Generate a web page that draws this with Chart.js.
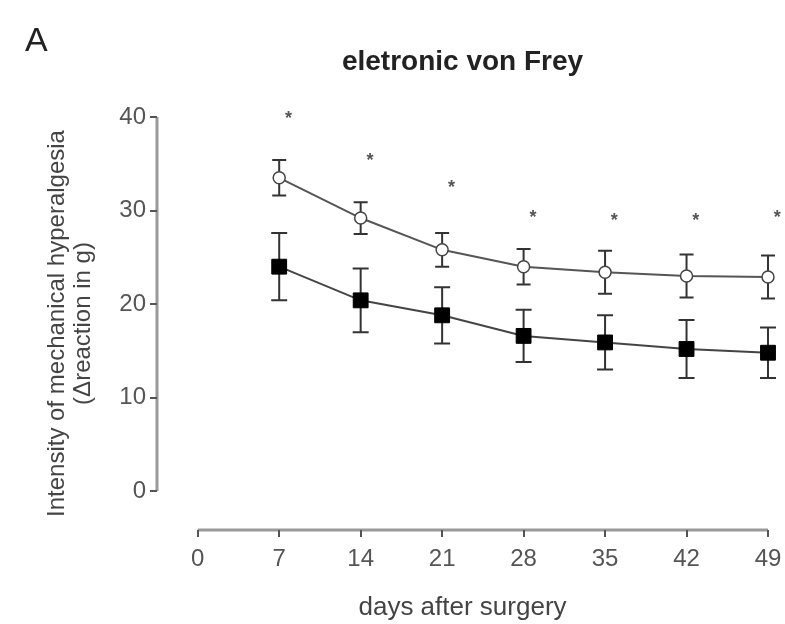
<!DOCTYPE html>
<html>
<head>
<meta charset="utf-8">
<script src="https://cdn.jsdelivr.net/npm/chart.js@4.4.1/dist/chart.umd.min.js"></script>
<style>
  html, body { margin: 0; padding: 0; background: #fff; }
  #wrap { width: 785px; height: 624px; }
</style>
</head>
<body>
<div id="wrap"><canvas id="Chart"></canvas></div>
<script>
const days = [7, 14, 21, 28, 35, 42, 49];
const openMean = [33.5, 29.2, 25.8, 24.0, 23.4, 23.0, 22.9];
const openErr = [1.9, 1.7, 1.8, 1.9, 2.3, 2.3, 2.3];
const filledMean = [24.0, 20.4, 18.8, 16.6, 15.9, 15.2, 14.8];
const filledErr = [3.6, 3.4, 3.0, 2.8, 2.9, 3.1, 2.7];
const starY = [40.3, 35.8, 32.9, 29.7, 29.4, 29.4, 29.7];
const xTicks = [0, 7, 14, 21, 28, 35, 42, 49];
const yTicks = [0, 10, 20, 30, 40];

const FONT = '"Liberation Sans", Arial, sans-serif';

// error bars under the markers
const errorBars = {
    id: 'errorBars',
    beforeDatasetsDraw(chart) {
        const ctx = chart.ctx;
        const xs = chart.scales.x, ys = chart.scales.y;
        const errs = [openErr, filledErr];
        const means = [openMean, filledMean];
        ctx.save();
        ctx.strokeStyle = '#333';
        ctx.lineWidth = 2;
        for (let d = 0; d < 2; d++) {
            const cap = d === 0 ? 7 : 8;
            days.forEach((day, i) => {
                const x = xs.getPixelForValue(day);
                const t = ys.getPixelForValue(means[d][i] + errs[d][i]);
                const b = ys.getPixelForValue(means[d][i] - errs[d][i]);
                ctx.beginPath();
                ctx.moveTo(x, t); ctx.lineTo(x, b);
                ctx.moveTo(x - cap, t); ctx.lineTo(x + cap, t);
                ctx.moveTo(x - cap, b); ctx.lineTo(x + cap, b);
                ctx.stroke();
            });
        }
        ctx.restore();
    }
};

// axis lines (detached, prism style), asterisks, panel letter
const decorations = {
    id: 'decorations',
    beforeDraw(chart) {
        const ctx = chart.ctx;
        const xs = chart.scales.x, ys = chart.scales.y;
        const area = chart.chartArea;
        ctx.save();
        ctx.strokeStyle = '#999';
        ctx.lineWidth = 3;
        ctx.beginPath();
        ctx.moveTo(area.left, ys.getPixelForValue(0));
        ctx.lineTo(area.left, ys.getPixelForValue(40));
        ctx.moveTo(xs.getPixelForValue(0), area.bottom);
        ctx.lineTo(xs.getPixelForValue(49), area.bottom);
        ctx.stroke();
        ctx.fillStyle = '#222';
        ctx.font = '34px ' + FONT;
        ctx.textBaseline = 'middle';
        ctx.fillText('A', 25, 42);
        ctx.restore();
    },
    afterDatasetsDraw(chart) {
        const ctx = chart.ctx;
        const xs = chart.scales.x, ys = chart.scales.y;
        ctx.save();
        ctx.fillStyle = '#555';
        ctx.font = 'bold 18px ' + FONT;
        ctx.textAlign = 'center';
        ctx.textBaseline = 'alphabetic';
        days.forEach((day, i) => {
            ctx.fillText('*', xs.getPixelForValue(day + 0.8), ys.getPixelForValue(starY[i]) + 10);
        });
        ctx.restore();
    }
};

const ctx = document.getElementById('Chart');

new Chart(ctx, {
    type: 'line',
    data: {
        datasets: [{
            data: days.map((d, i) => ({ x: d, y: openMean[i] })),
            borderColor: '#555',
            borderWidth: 2,
            pointStyle: 'circle',
            pointRadius: 6,
            pointBorderWidth: 1.5,
            pointBorderColor: '#444',
            pointBackgroundColor: '#fff',
            clip: false
        }, {
            data: days.map((d, i) => ({ x: d, y: filledMean[i] })),
            borderColor: '#444',
            borderWidth: 2,
            pointStyle: 'rect',
            pointRadius: 10.5,
            pointBorderWidth: 1,
            pointBorderColor: '#000',
            pointBackgroundColor: '#000',
            clip: false
        }]
    },
    options: {
        responsive: true,
        maintainAspectRatio: false,
        animation: false,
        layout: { padding: { top: 0, right: 17, bottom: 0, left: 0 } },
        plugins: {
            legend: { display: false },
            tooltip: { enabled: false },
            title: {
                display: true,
                text: 'eletronic von Frey',
                fullSize: false,
                color: '#222',
                font: { family: FONT, size: 28, weight: 'bold' },
                padding: { top: 45, bottom: 38.4 }
            }
        },
        scales: {
            x: {
                type: 'linear',
                min: -3.5,
                max: 49,
                afterBuildTicks: s => { s.ticks = xTicks.map(v => ({ value: v })); },
                afterFit: s => { s.height = 94; s.paddingLeft = 0; s.paddingRight = 0; },
                border: { display: false },
                grid: { drawOnChartArea: false, drawTicks: true, tickLength: 7, color: '#555', lineWidth: 2 },
                ticks: { color: '#555', padding: 8, font: { family: FONT, size: 24 } },
                title: {
                    display: true,
                    text: 'days after surgery',
                    color: '#444',
                    font: { family: FONT, size: 26 },
                    padding: { top: 0, bottom: 1 }
                }
            },
            y: {
                min: -4.15,
                max: 40,
                afterBuildTicks: s => { s.ticks = yTicks.map(v => ({ value: v })); },
                afterFit: s => { s.width = 157; },
                border: { display: false },
                grid: { drawOnChartArea: false, drawTicks: true, tickLength: 7, color: '#555', lineWidth: 2 },
                ticks: { color: '#555', padding: 4, font: { family: FONT, size: 24 } },
                title: {
                    display: true,
                    text: ['Intensity of mechanical hyperalgesia', '(\u0394reaction in g)'],
                    color: '#444',
                    font: { family: FONT, size: 24, lineHeight: 1.1 },
                    padding: { top: 44, bottom: 0 }
                }
            }
        }
    },
    plugins: [errorBars, decorations]
});
</script>
</body>
</html>
